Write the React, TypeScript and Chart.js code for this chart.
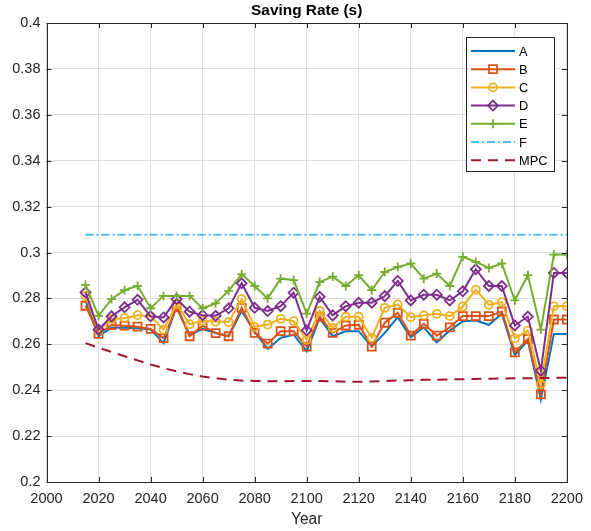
import React, { useEffect, useRef } from 'react';
import { Chart, registerables } from 'chart.js';

Chart.register(...registerables);

const years = [
  2015, 2020, 2025, 2030, 2035, 2040, 2045, 2050, 2055, 2060,
  2065, 2070, 2075, 2080, 2085, 2090, 2095, 2100, 2105, 2110,
  2115, 2120, 2125, 2130, 2135, 2140, 2145, 2150, 2155, 2160,
  2165, 2170, 2175, 2180, 2185, 2190, 2195, 2200,
];

const seriesA = [
  0.2790, 0.2635, 0.2672, 0.2672, 0.2670, 0.2665, 0.2605, 0.2765, 0.2640, 0.2667,
  0.2650, 0.2635, 0.2745, 0.2655, 0.2580, 0.2628, 0.2642, 0.2570, 0.2715, 0.2635,
  0.2657, 0.2657, 0.2590, 0.2650, 0.2718, 0.2631, 0.2674, 0.2609, 0.2660, 0.2700,
  0.2704, 0.2685, 0.2733, 0.2553, 0.2616, 0.2360, 0.2645, 0.2645,
];

const seriesB = [
  0.2768, 0.2645, 0.2684, 0.2681, 0.2677, 0.2667, 0.2627, 0.2761, 0.2635, 0.2681,
  0.2649, 0.2635, 0.2759, 0.2650, 0.2603, 0.2657, 0.2657, 0.2590, 0.2720, 0.2650,
  0.2682, 0.2685, 0.2590, 0.2694, 0.2737, 0.2638, 0.2689, 0.2638, 0.2674, 0.2723,
  0.2723, 0.2723, 0.2743, 0.2565, 0.2623, 0.2382, 0.2708, 0.2708,
];

const seriesC = [
  0.2811, 0.2659, 0.2710, 0.2714, 0.2727, 0.2722, 0.2664, 0.2775, 0.2688, 0.2703,
  0.2699, 0.2697, 0.2797, 0.2676, 0.2686, 0.2711, 0.2701, 0.2620, 0.2745, 0.2671,
  0.2720, 0.2720, 0.2628, 0.2759, 0.2774, 0.2718, 0.2726, 0.2733, 0.2723, 0.2765,
  0.2838, 0.2772, 0.2784, 0.2626, 0.2660, 0.2426, 0.2766, 0.2766,
];

const seriesD = [
  0.2826, 0.2664, 0.2722, 0.2761, 0.2794, 0.2722, 0.2717, 0.2797, 0.2742, 0.2727,
  0.2724, 0.2757, 0.2866, 0.2759, 0.2745, 0.2766, 0.2825, 0.2661, 0.2807, 0.2726,
  0.2766, 0.2781, 0.2781, 0.2810, 0.2876, 0.2791, 0.2816, 0.2816, 0.2791, 0.2831,
  0.2927, 0.2854, 0.2854, 0.2682, 0.2721, 0.2485, 0.2911, 0.2911,
];

const seriesE = [
  0.2859, 0.2724, 0.2797, 0.2836, 0.2855, 0.2757, 0.2811, 0.2811, 0.2811, 0.2757,
  0.2778, 0.2833, 0.2905, 0.2854, 0.2800, 0.2886, 0.2880, 0.2734, 0.2871, 0.2895,
  0.2854, 0.2901, 0.2836, 0.2915, 0.2937, 0.2952, 0.2886, 0.2908, 0.2854, 0.2981,
  0.2959, 0.2933, 0.2952, 0.2791, 0.2901, 0.2664, 0.2991, 0.2991,
];

const fYears = [2015, 2200];
const seriesF = [0.3077, 0.3077];

const seriesMPC = [
  0.2605, 0.2585, 0.2567, 0.2548, 0.2530, 0.2512, 0.2496, 0.2482, 0.2470, 0.2460,
  0.2452, 0.2446, 0.2442, 0.2440, 0.2439, 0.2439, 0.2440, 0.2440, 0.2440, 0.2439,
  0.2437, 0.2437, 0.2438, 0.2440, 0.2442, 0.2443, 0.2445, 0.2446, 0.2447, 0.2448,
  0.2449, 0.2450, 0.2451, 0.2452, 0.2452, 0.2453, 0.2454, 0.2454,
];

const xTickValues = [2000, 2020, 2040, 2060, 2080, 2100, 2120, 2140, 2160, 2180, 2200];
const xTickLabels = ['2000', '2020', '2040', '2060', '2080', '2100', '2120', '2140', '2160', '2180', '2200'];
const yTickValues = [0.2, 0.22, 0.24, 0.26, 0.28, 0.3, 0.32, 0.34, 0.36, 0.38, 0.4];
const yTickLabels = ['0.2', '0.22', '0.24', '0.26', '0.28', '0.3', '0.32', '0.34', '0.36', '0.38', '0.4'];

const seriesNames = ['A', 'B', 'C', 'D', 'E', 'F', 'MPC'];

const COL = {
  A: '#0072BD',
  B: '#D95319',
  C: '#EDB120',
  D: '#7E2F8E',
  E: '#77AC30',
  F: '#4DBEEE',
  MPC: '#A2142F',
};

const FONT = '"Liberation Sans", Arial, Helvetica, sans-serif';
const AXIS_COLOR = '#262626';

type Marker = 'none' | 'square' | 'circle' | 'diamond' | 'plus';

const legendItems: { name: string; color: string; marker: Marker; dash: number[] }[] = [
  { name: seriesNames[0], color: COL.A, marker: 'none', dash: [] },
  { name: seriesNames[1], color: COL.B, marker: 'square', dash: [] },
  { name: seriesNames[2], color: COL.C, marker: 'circle', dash: [] },
  { name: seriesNames[3], color: COL.D, marker: 'diamond', dash: [] },
  { name: seriesNames[4], color: COL.E, marker: 'plus', dash: [] },
  { name: seriesNames[5], color: COL.F, marker: 'none', dash: [8, 3, 2, 3] },
  { name: seriesNames[6], color: COL.MPC, marker: 'none', dash: [10, 7] },
];

function drawMarker(ctx: CanvasRenderingContext2D, m: Marker, x: number, y: number) {
  ctx.beginPath();
  if (m === 'square') {
    ctx.rect(x - 4, y - 4, 8, 8);
  } else if (m === 'circle') {
    ctx.arc(x, y, 4, 0, Math.PI * 2);
  } else if (m === 'diamond') {
    ctx.moveTo(x, y - 5);
    ctx.lineTo(x + 5, y);
    ctx.lineTo(x, y + 5);
    ctx.lineTo(x - 5, y);
    ctx.closePath();
  } else if (m === 'plus') {
    ctx.moveTo(x - 4.5, y);
    ctx.lineTo(x + 4.5, y);
    ctx.moveTo(x, y - 4.5);
    ctx.lineTo(x, y + 4.5);
  }
  ctx.stroke();
}

const framePlugin = {
  id: 'matlabFrame',
  beforeDraw(chart: any) {
    const ctx = chart.ctx as CanvasRenderingContext2D;
    ctx.save();
    ctx.fillStyle = '#ffffff';
    ctx.fillRect(0, 0, chart.width, chart.height);
    ctx.restore();
  },
  afterDraw(chart: any) {
    const ctx = chart.ctx as CanvasRenderingContext2D;
    const { left, right, top, bottom } = chart.chartArea;
    const xs = chart.scales.x;
    const ys = chart.scales.y;
    ctx.save();
    ctx.strokeStyle = AXIS_COLOR;
    ctx.lineWidth = 1;
    ctx.setLineDash([]);
    ctx.strokeRect(Math.round(left) + 0.5, Math.round(top) + 0.5, Math.round(right - left), Math.round(bottom - top));
    const tl = 5;
    ctx.beginPath();
    xTickValues.forEach((v) => {
      const px = Math.round(xs.getPixelForValue(v)) + 0.5;
      ctx.moveTo(px, bottom);
      ctx.lineTo(px, bottom - tl);
      ctx.moveTo(px, top);
      ctx.lineTo(px, top + tl);
    });
    yTickValues.forEach((v) => {
      const py = Math.round(ys.getPixelForValue(v)) + 0.5;
      ctx.moveTo(left, py);
      ctx.lineTo(left + tl, py);
      ctx.moveTo(right, py);
      ctx.lineTo(right - tl, py);
    });
    ctx.stroke();

    // title
    ctx.fillStyle = '#000000';
    ctx.font = 'bold 15.4px ' + FONT;
    ctx.textAlign = 'center';
    ctx.textBaseline = 'middle';
    ctx.fillText('Saving Rate (s)', (left + right) / 2, 11);

    // legend
    const bx = 466.5;
    const by = 37.5;
    const bw = 88;
    const bh = 134;
    ctx.fillStyle = '#ffffff';
    ctx.fillRect(bx, by, bw, bh);
    ctx.strokeStyle = AXIS_COLOR;
    ctx.lineWidth = 1;
    ctx.strokeRect(bx, by, bw, bh);
    ctx.font = '12.8px ' + FONT;
    ctx.textAlign = 'left';
    ctx.textBaseline = 'middle';
    legendItems.forEach((it, i) => {
      const cy = 51 + i * 18.2;
      ctx.strokeStyle = it.color;
      ctx.lineWidth = 2;
      ctx.setLineDash(it.dash);
      ctx.beginPath();
      ctx.moveTo(471, cy);
      ctx.lineTo(515, cy);
      ctx.stroke();
      ctx.setLineDash([]);
      if (it.marker !== 'none') {
        ctx.lineWidth = 1.8;
        drawMarker(ctx, it.marker, 493, cy);
      }
      ctx.fillStyle = '#000000';
      ctx.fillText(it.name, 519, cy + 1);
    });
    ctx.restore();
  },
};

function pts(xsArr: number[], ysArr: number[]) {
  return xsArr.map((x, i) => ({ x, y: ysArr[i] }));
}

export default function App() {
  const ref = useRef<HTMLCanvasElement | null>(null);

  useEffect(() => {
    const canvas = ref.current;
    if (!canvas) return;
    const common = {
      fill: false,
      tension: 0,
      borderWidth: 2,
      pointBackgroundColor: 'rgba(0,0,0,0)',
      pointBorderWidth: 1.8,
    };
    const chart = new Chart(canvas, {
      type: 'line',
      data: {
        datasets: [
          { ...common, label: 'A', data: pts(years, seriesA), borderColor: COL.A, pointRadius: 0, order: 6 },
          { ...common, label: 'B', data: pts(years, seriesB), borderColor: COL.B, pointBorderColor: COL.B, pointStyle: 'rect', pointRadius: 5.66, order: 5 },
          { ...common, label: 'C', data: pts(years, seriesC), borderColor: COL.C, pointBorderColor: COL.C, pointStyle: 'circle', pointRadius: 4, order: 4 },
          { ...common, label: 'D', data: pts(years, seriesD), borderColor: COL.D, pointBorderColor: COL.D, pointStyle: 'rectRot', pointRadius: 5, order: 3 },
          { ...common, label: 'E', data: pts(years, seriesE), borderColor: COL.E, pointBorderColor: COL.E, pointStyle: 'cross', pointRadius: 4.5, order: 2 },
          { ...common, label: 'F', data: pts(fYears, seriesF), borderColor: COL.F, pointRadius: 0, borderDash: [8, 3, 2, 3], order: 1 },
          { ...common, label: 'MPC', data: pts(years, seriesMPC), borderColor: COL.MPC, pointRadius: 0, borderDash: [10, 7], order: 0 },
        ] as any,
      },
      options: {
        animation: false,
        responsive: false,
        devicePixelRatio: 1,
        layout: { padding: { top: 23, right: 24, left: 0, bottom: 0 } },
        plugins: {
          legend: { display: false },
          title: { display: false },
          tooltip: { enabled: false },
        },
        scales: {
          x: {
            type: 'linear',
            min: 2000,
            max: 2200,
            afterBuildTicks: (scale: any) => {
              scale.ticks = xTickValues.map((v) => ({ value: v }));
            },
            afterFit: (scale: any) => {
              scale.height = 49;
            },
            ticks: {
              autoSkip: false,
              maxRotation: 0,
              padding: 8,
              color: AXIS_COLOR,
              font: { family: FONT, size: 14.5 },
              callback: (_v: any, i: number) => xTickLabels[i],
            },
            grid: { color: '#dedede', drawTicks: false, lineWidth: 1 },
            border: { display: false },
            title: {
              display: true,
              text: 'Year',
              color: AXIS_COLOR,
              font: { family: FONT, size: 15.6 },
              padding: { top: 0, bottom: 2 },
            },
          },
          y: {
            type: 'linear',
            min: 0.2,
            max: 0.4,
            afterBuildTicks: (scale: any) => {
              scale.ticks = yTickValues.map((v) => ({ value: v }));
            },
            afterFit: (scale: any) => {
              scale.width = 46.5;
            },
            ticks: {
              autoSkip: false,
              padding: 6,
              color: AXIS_COLOR,
              font: { family: FONT, size: 14.5 },
              callback: (_v: any, i: number) => yTickLabels[i],
            },
            grid: { color: '#dedede', drawTicks: false, lineWidth: 1 },
            border: { display: false },
          },
        },
      } as any,
      plugins: [framePlugin],
    });
    return () => chart.destroy();
  }, []);

  return (
    <div style={{ position: 'absolute', left: 0, top: 0, width: 591, height: 531, background: '#fff' }}>
      <canvas ref={ref} width={591} height={531} style={{ display: 'block' }} />
    </div>
  );
}
